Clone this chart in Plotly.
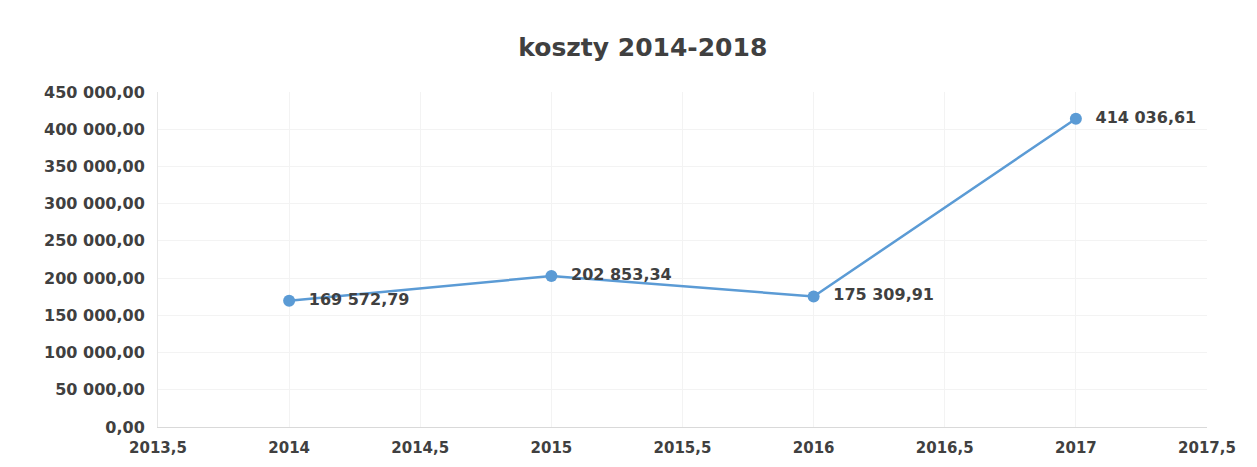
import plotly.graph_objects as go

years = [2014, 2015, 2016, 2017]
costs = [169572.79, 202853.34, 175309.91, 414036.61]
x_ticks = [2013.5, 2014, 2014.5, 2015, 2015.5, 2016, 2016.5, 2017, 2017.5]
x_tick_labels = ["2013,5", "2014", "2014,5", "2015", "2015,5", "2016", "2016,5", "2017", "2017,5"]
y_ticks = [0, 50000, 100000, 150000, 200000, 250000, 300000, 350000, 400000, 450000]

FONT = "DejaVu Sans, Open Sans, sans-serif"

fig = go.Figure()
fig.add_trace(go.Scatter(
    x=years, y=costs,
    mode="lines+markers+text",
    line=dict(color="#5B9BD5", width=2.5),
    marker=dict(color="#5B9BD5", size=12),
    texttemplate="  %{y:,.2f}",
    textposition="middle right",
    textfont=dict(family=FONT, size=16, color="#404040", weight="bold"),
    cliponaxis=False,
    showlegend=False,
))

fig.update_layout(
    width=1257, height=467,
    separators=", ",
    paper_bgcolor="white", plot_bgcolor="white",
    margin=dict(l=150, r=58, t=84, b=48),
    title=dict(text="koszty 2014-2018", x=0.505, xanchor="center", y=0.916, yanchor="middle",
               font=dict(family=FONT, size=25, color="#404040", weight="bold")),
    font=dict(family=FONT, size=15, color="#404040"),
)
fig.update_xaxes(
    range=[2013.5, 2017.5], tickvals=x_ticks, ticktext=x_tick_labels,
    showgrid=True, gridcolor="#f3f3f3", zeroline=False,
    showline=True, linecolor="#d9d9d9", ticks="outside", ticklen=7, tickcolor="rgba(0,0,0,0)",
    automargin=False,
    tickfont=dict(size=15, color="#404040", family=FONT, weight="bold"),
)
fig.update_yaxes(
    range=[0, 450000], tickvals=y_ticks, tickformat=",.2f",
    showgrid=True, gridcolor="#f3f3f3", zeroline=False,
    showline=True, linecolor="#e6e6e6", ticks="outside", ticklen=9, tickcolor="rgba(0,0,0,0)",
    automargin=False,
    tickfont=dict(size=16, color="#404040", family=FONT, weight="bold"),
)
fig.write_html("out.html")
